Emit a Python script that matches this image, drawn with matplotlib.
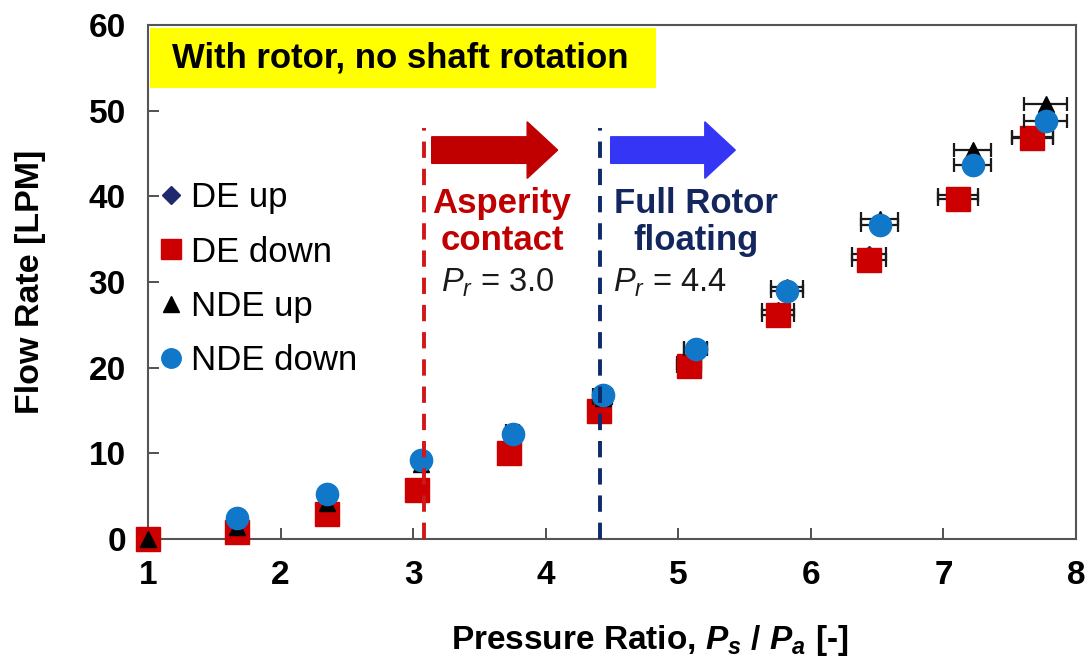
import matplotlib
matplotlib.use("Agg")
import matplotlib.pyplot as plt
from matplotlib.patches import FancyArrow, Rectangle
from matplotlib.lines import Line2D

plt.rcParams['font.family'] = ['Liberation Sans', 'DejaVu Sans']
plt.rcParams['mathtext.fontset'] = 'custom'
plt.rcParams['mathtext.rm'] = 'Liberation Sans'
plt.rcParams['mathtext.it'] = 'Liberation Sans:italic'
plt.rcParams['mathtext.bf'] = 'Liberation Sans:bold'
plt.rcParams['mathtext.bfit'] = 'Liberation Sans:bold:italic'

# ---- data ----
de_up_x = [1.00, 1.67, 2.35, 3.03, 3.72, 4.40, 5.08, 5.75, 6.44, 7.11, 7.67]
de_up_y = [0.0, 0.7, 3.0, 5.8, 10.3, 15.3, 20.6, 26.7, 33.3, 40.2, 46.9]
de_up_xerr = [0, 0, 0, 0, 0.05, 0.07, 0.09, 0.12, 0.13, 0.15, 0.155]

de_down_x = [1.00, 1.67, 2.35, 3.03, 3.72, 4.40, 5.08, 5.75, 6.44, 7.11, 7.67]
de_down_y = [0.0, 0.8, 2.9, 5.7, 10.0, 15.0, 20.2, 26.2, 32.6, 39.7, 46.8]
de_down_xerr = [0, 0, 0, 0, 0.05, 0.07, 0.09, 0.12, 0.13, 0.15, 0.155]

nde_up_x = [1.00, 1.67, 2.35, 3.06, 3.75, 4.43, 5.13, 5.82, 6.52, 7.22, 7.77]
nde_up_y = [0.0, 1.4, 4.2, 8.7, 12.6, 16.5, 22.3, 29.4, 37.3, 45.4, 50.8]
nde_up_xerr = [0, 0, 0, 0.03, 0.05, 0.07, 0.09, 0.12, 0.14, 0.14, 0.16]

nde_down_x = [1.67, 2.35, 3.06, 3.75, 4.43, 5.13, 5.82, 6.52, 7.22, 7.77]
nde_down_y = [2.4, 5.2, 9.2, 12.2, 16.8, 22.2, 29.0, 36.6, 43.6, 48.8]
nde_down_xerr = [0, 0, 0.03, 0.05, 0.07, 0.09, 0.12, 0.14, 0.14, 0.16]

asperity_pr = 3.08
floating_pr = 4.41
x_ticks = [1, 2, 3, 4, 5, 6, 7, 8]
y_ticks = [0, 10, 20, 30, 40, 50, 60]

fig = plt.figure(figsize=(10.89, 6.61), dpi=100)
ax = fig.add_axes([148/1089, 1-539/661, (1076-148)/1089, (539-25)/661])

err_kw = dict(ecolor='#1a1a1a', elinewidth=1.6, capsize=5, capthick=1.6, linestyle='none',
              clip_on=False)

ax.errorbar(de_up_x, de_up_y, xerr=de_up_xerr, marker='D', ms=8, color='#1F2A6E',
            mec='#1F2A6E', zorder=3, label='DE up', **err_kw)
ax.errorbar(de_down_x, de_down_y, xerr=de_down_xerr, marker='s', ms=17, color='#CC0000',
            mec='#CC0000', zorder=4, label='DE down', **err_kw)
ax.errorbar(nde_up_x, nde_up_y, xerr=nde_up_xerr, marker='^', ms=12, color='black',
            mec='black', zorder=5, label='NDE up', **err_kw)
ax.errorbar(nde_down_x, nde_down_y, xerr=nde_down_xerr, marker='o', ms=16, color='#1077C9',
            mec='#1077C9', zorder=6, label='NDE down', **err_kw)

# vertical dashed lines
ax.plot([asperity_pr, asperity_pr], [0, 48], color='#D01818', lw=2.8,
        dashes=(4.2, 2.8), zorder=7)
ax.plot([floating_pr, floating_pr], [0, 48], color='#0D2A6A', lw=2.8,
        dashes=(4.2, 2.8), zorder=7)

# arrows
ax.add_patch(FancyArrow(3.14, 45.4, 0.95, 0, width=3.1, head_width=6.6, head_length=0.23,
                        length_includes_head=True, color='#C00000', zorder=8))
ax.add_patch(FancyArrow(4.49, 45.4, 0.94, 0, width=3.1, head_width=6.6, head_length=0.23,
                        length_includes_head=True, color='#3535F5', zorder=8))

# annotations
ax.text(3.67, 37.0, 'Asperity\ncontact', color='#C00000', fontsize=25, fontweight='bold',
        ha='center', va='center', linespacing=1.18, zorder=9)
ax.text(5.13, 37.0, 'Full Rotor\nfloating', color='#13275E', fontsize=25, fontweight='bold',
        ha='center', va='center', linespacing=1.18, zorder=9)
ax.text(3.64, 29.9, r'$P_r$ = 3.0', color='#1a1a1a', fontsize=23.5, ha='center', va='center', zorder=9)
ax.text(4.94, 29.9, r'$P_r$ = 4.4', color='#1a1a1a', fontsize=23.5, ha='center', va='center', zorder=9)

# yellow title box
ax.add_patch(Rectangle((1.015, 52.6), 3.815, 7.1, facecolor='#FFFF00', edgecolor='none', zorder=1))
ax.text(2.9, 56.1, 'With rotor, no shaft rotation', fontsize=25, fontweight='bold',
        ha='center', va='center', color='black', zorder=2)

ax.set_xlim(1, 8)
ax.set_ylim(0, 60)
ax.set_xticks(x_ticks)
ax.set_yticks(y_ticks)
ax.tick_params(direction='in', length=8, width=1.2, color='#333333', labelsize=24)
ax.tick_params(axis='x', pad=15)
ax.tick_params(axis='y', pad=16)
for lab in ax.get_xticklabels() + ax.get_yticklabels():
    lab.set_fontweight('bold')
for s in ax.spines.values():
    s.set_color('#555555')
    s.set_linewidth(1.5)

ax.set_ylabel('Flow Rate [LPM]', fontsize=24.5, fontweight='bold')
ax.set_xlabel(r'Pressure Ratio, $\mathbfit{P_s}$ / $\mathbfit{P_a}$ [-]', fontsize=24,
              fontweight='bold')
ax.yaxis.set_label_coords(-(148 - 30) / 928, 0.5)
ax.xaxis.set_label_coords((650 - 148) / 928, -(640 - 539) / 514)
ax.xaxis.label.set_va('center')
ax.yaxis.label.set_va('center')

handles = [
    Line2D([], [], marker='D', ms=9, color='#1F2A6E', ls='none'),
    Line2D([], [], marker='s', ms=15, color='#CC0000', ls='none'),
    Line2D([], [], marker='^', ms=12, color='black', ls='none'),
    Line2D([], [], marker='o', ms=14, color='#1077C9', ls='none'),
]
leg = ax.legend(handles, ['DE up', 'DE down', 'NDE up', 'NDE down'], loc='upper left',
                bbox_to_anchor=(-0.014, 0.743), frameon=False, fontsize=25,
                handlelength=0.7, handletextpad=0.2, labelspacing=0.61, borderaxespad=0.3)

fig.savefig('out.png', dpi=100)
